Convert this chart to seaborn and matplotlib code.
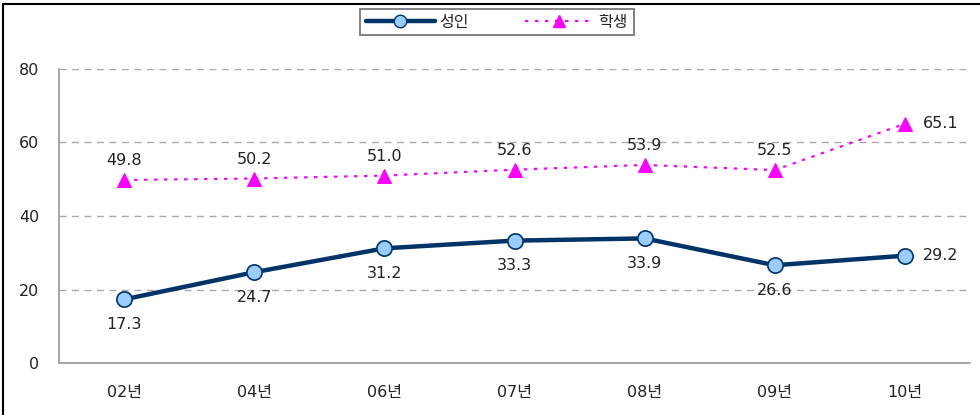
import matplotlib
matplotlib.use("Agg")
import matplotlib.pyplot as plt
from matplotlib.lines import Line2D
import numpy as np
import pandas as pd
import seaborn as sns

years = ["02년", "04년", "06년", "07년", "08년", "09년", "10년"]
adult = [17.3, 24.7, 31.2, 33.3, 33.9, 26.6, 29.2]
student = [49.8, 50.2, 51.0, 52.6, 53.9, 52.5, 65.1]
series_names = ["성인", "학생"]

sns.set_theme(style="white")
plt.rcParams["font.family"] = ["DejaVu Sans", "Noto Sans CJK KR"]

W, H = 980, 415
fig = plt.figure(figsize=(W / 100, H / 100), dpi=100)
ax = fig.add_axes([59 / W, 1 - 363 / H, (970 - 59) / W, (363 - 69) / H])

df = pd.DataFrame({
    "idx": list(range(len(years))) * 2,
    "value": adult + student,
    "group": [series_names[0]] * len(years) + [series_names[1]] * len(years),
})

navy = "#003366"
magenta = "#FF00FF"
fs = 11.5

sns.lineplot(data=df[df.group == series_names[0]], x="idx", y="value", ax=ax,
             color=navy, linewidth=3.2, marker="o", markersize=11,
             markerfacecolor="#99CCFF", markeredgecolor=navy, markeredgewidth=1.2,
             zorder=4, legend=False)
sns.lineplot(data=df[df.group == series_names[1]], x="idx", y="value", ax=ax,
             color=magenta, linewidth=1.6, linestyle=(0, (1.5, 3)), marker="^",
             markersize=10, markerfacecolor=magenta, markeredgecolor=magenta,
             zorder=4, legend=False)

label_font = dict(fontsize=fs, color="#222222")
for i, v in enumerate(adult):
    if i == len(years) - 1:
        ax.annotate(f"{v:.1f}", (i, v), xytext=(13, 0), textcoords="offset points",
                    ha="left", va="center", **label_font)
    else:
        ax.annotate(f"{v:.1f}", (i, v), xytext=(0, -18), textcoords="offset points",
                    ha="center", va="center", **label_font)
for i, v in enumerate(student):
    if i == len(years) - 1:
        ax.annotate(f"{v:.1f}", (i, v), xytext=(13, 0), textcoords="offset points",
                    ha="left", va="center", **label_font)
    else:
        ax.annotate(f"{v:.1f}", (i, v), xytext=(0, 14), textcoords="offset points",
                    ha="center", va="center", **label_font)

ax.set_xlim(-0.5, len(years) - 0.5)
ax.set_ylim(0, 80)
ax.set_xticks(range(len(years)))
ax.set_xticklabels(years)
ax.set_xticks(np.arange(-0.5, len(years), 1), minor=True)
ax.set_yticks([0, 20, 40, 60, 80])
ax.set_xlabel("")
ax.set_ylabel("")
ax.tick_params(axis="x", which="major", length=0, pad=16, labelsize=fs, labelcolor="#222222")
ax.tick_params(axis="x", which="minor", direction="in", length=4, width=1, color="#999999")
ax.tick_params(axis="y", length=0, pad=14, labelsize=fs, labelcolor="#222222")

ax.yaxis.grid(True, color="#AAAAAA", linestyle=(0, (5, 4)), linewidth=1)
ax.set_axisbelow(True)
for side in ["top", "right"]:
    ax.spines[side].set_visible(False)
for side in ["left", "bottom"]:
    ax.spines[side].set_color("#999999")
    ax.spines[side].set_linewidth(1.2)

handles = [
    Line2D([], [], color=navy, linewidth=3.2, marker="o", markersize=9,
           markerfacecolor="#99CCFF", markeredgecolor=navy),
    Line2D([], [], color=magenta, linewidth=1.6, linestyle=(0, (1.5, 3)), marker="^",
           markersize=9, markerfacecolor=magenta, markeredgecolor=magenta),
]
leg = fig.legend(handles, series_names, loc="upper center", ncol=2,
                 bbox_to_anchor=(497 / W, 1 - 9 / H), frameon=True, fancybox=False,
                 edgecolor="#555555", fontsize=fs, handlelength=4.3,
                 columnspacing=3.5, handletextpad=0.3, borderpad=0.35,
                 borderaxespad=0)
leg.get_frame().set_linewidth(1.3)

# outer frame lines
fig.add_artist(Line2D([3 / W, 1.0], [1 - 4 / H, 1 - 4 / H], color="black",
                      linewidth=1.5, transform=fig.transFigure))
fig.add_artist(Line2D([3 / W, 3 / W], [0.0, 1 - 4 / H], color="black",
                      linewidth=1.5, transform=fig.transFigure))

fig.savefig("out.png", dpi=100)
